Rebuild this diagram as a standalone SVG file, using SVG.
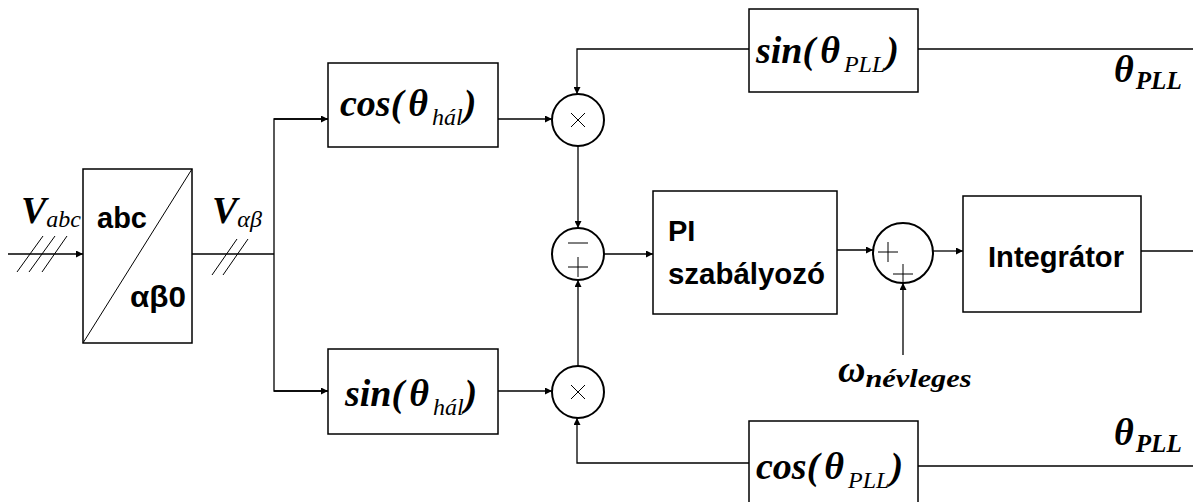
<svg xmlns="http://www.w3.org/2000/svg" width="1193" height="502" viewBox="0 0 1193 502">
<style>
.box{fill:#fff;stroke:#000;stroke-width:1.5}
.circ{fill:#fff;stroke:#000;stroke-width:2}
.ln{fill:none;stroke:#000;stroke-width:1.3}
.thin{fill:none;stroke:#000;stroke-width:1}
.fb{font-family:"Liberation Serif",serif;font-weight:bold;font-style:italic;font-size:38px}
.fs{font-family:"Liberation Serif",serif;font-style:italic;font-size:24px}
.fsb{font-family:"Liberation Serif",serif;font-style:italic;font-weight:bold;font-size:25px}
.sb{font-family:"Liberation Sans",Arial,sans-serif;font-weight:bold;font-size:29px}
</style>
<defs>
<marker id="ar" viewBox="0 0 10 10" refX="10" refY="5" markerWidth="8" markerHeight="7" markerUnits="userSpaceOnUse" orient="auto">
<path d="M0,0 L10,5 L0,10 z" fill="#000"/>
</marker>
</defs>
<rect width="1193" height="502" fill="#fff"/>

<g id="connectors">
<line class="ln" x1="8" y1="254" x2="83" y2="254" marker-end="url(#ar)"/>
<line class="thin" x1="17" y1="272" x2="43" y2="236"/>
<line class="thin" x1="29" y1="272" x2="55" y2="236"/>
<line class="thin" x1="42" y1="272" x2="67" y2="236"/>
<line class="ln" x1="192" y1="254" x2="274" y2="254"/>
<line class="thin" x1="212" y1="275" x2="237" y2="239"/>
<line class="thin" x1="223" y1="275" x2="248" y2="239"/>
<polyline class="ln" points="328,119 274,119 274,391 328,391"/>
<line class="ln" x1="274" y1="119" x2="328" y2="119" marker-end="url(#ar)"/>
<line class="ln" x1="274" y1="391" x2="328" y2="391" marker-end="url(#ar)"/>
<line class="ln" x1="498" y1="119" x2="552" y2="119" marker-end="url(#ar)"/>
<line class="ln" x1="498" y1="391" x2="552" y2="391" marker-end="url(#ar)"/>
<line class="ln" x1="578" y1="146" x2="578" y2="228" marker-end="url(#ar)"/>
<line class="ln" x1="578" y1="366" x2="578" y2="280" marker-end="url(#ar)"/>
<line class="ln" x1="604" y1="254" x2="653" y2="254" marker-end="url(#ar)"/>
<line class="ln" x1="837" y1="250" x2="873" y2="250" marker-end="url(#ar)"/>
<line class="ln" x1="933" y1="251" x2="963" y2="251" marker-end="url(#ar)"/>
<line class="ln" x1="1141" y1="251" x2="1193" y2="251"/>
<line class="ln" x1="903" y1="355" x2="903" y2="283" marker-end="url(#ar)"/>
<polyline class="ln" points="749,49 577,49 577,94" marker-end="url(#ar)"/>
<line class="ln" x1="918" y1="49" x2="1193" y2="49"/>
<polyline class="ln" points="749,463 577,463 577,418" marker-end="url(#ar)"/>
<line class="ln" x1="918" y1="466" x2="1193" y2="466"/>
</g>

<g id="abc-ab0">
<rect class="box" x="83" y="169" width="109" height="174"/>
<line class="thin" x1="83" y1="343" x2="192" y2="169"/>
<text class="sb" x="97" y="228" font-size="31" textLength="50" lengthAdjust="spacingAndGlyphs">abc</text>
<text class="sb" x="130" y="307" font-size="31" textLength="56" lengthAdjust="spacingAndGlyphs">αβ0</text>
</g>

<g id="label-vabc">
<text x="21" y="223"><tspan class="fb" font-size="38">V</tspan><tspan class="fs" font-size="23" dy="4">abc</tspan></text>
</g>
<g id="label-vab">
<text x="212" y="223"><tspan class="fb" font-size="38">V</tspan><tspan class="fs" font-size="23" dy="4">αβ</tspan></text>
</g>

<g id="cos-hal">
<rect class="box" x="328" y="63" width="170" height="84"/>
<text x="340" y="116"><tspan class="fb">cos(</tspan><tspan class="fb" dx="5">θ</tspan><tspan class="fs" dx="4" dy="9">hál</tspan><tspan class="fb" dx="1" dy="-9">)</tspan></text>
</g>

<g id="sin-hal">
<rect class="box" x="328" y="349" width="170" height="85"/>
<text x="345" y="406"><tspan class="fb">sin(</tspan><tspan class="fb" dx="5">θ</tspan><tspan class="fs" dx="4" dy="9">hál</tspan><tspan class="fb" dx="1" dy="-9">)</tspan></text>
</g>

<g id="mul-top">
<circle class="circ" cx="578" cy="120" r="26"/>
<path class="thin" d="M571,113 L585,127 M585,113 L571,127"/>
</g>

<g id="mul-bottom">
<circle class="circ" cx="578" cy="392" r="26"/>
<path class="thin" d="M571,385 L585,399 M585,385 L571,399"/>
</g>

<g id="sum1">
<circle class="circ" cx="578" cy="254" r="26"/>
<path class="thin" d="M568,243 L588,243 M568,267 L588,267 M578,257 L578,277"/>
</g>

<g id="pi">
<rect class="box" x="653" y="191" width="184" height="123"/>
<text class="sb" x="668" y="241">PI</text>
<text class="sb" x="668" y="284" textLength="157" lengthAdjust="spacingAndGlyphs">szabályozó</text>
</g>

<g id="sum2">
<circle class="circ" cx="903" cy="253" r="30"/>
<path class="thin" d="M878,252 L898,252 M888,242 L888,262 M893,274 L913,274 M903,264 L903,284"/>
</g>

<g id="integrator">
<rect class="box" x="963" y="196" width="178" height="116"/>
<text class="sb" x="988" y="267" textLength="136" lengthAdjust="spacingAndGlyphs">Integrátor</text>
</g>

<g id="label-omega">
<text x="838" y="382"><tspan class="fb" font-size="36">ω</tspan><tspan class="fsb" font-size="27" dy="5" textLength="106" lengthAdjust="spacingAndGlyphs">névleges</tspan></text>
</g>

<g id="sin-pll">
<rect class="box" x="749" y="9" width="169" height="83"/>
<text x="756" y="63"><tspan class="fb">sin(</tspan><tspan class="fb" dx="5">θ</tspan><tspan class="fs" dx="4" dy="9">PLL</tspan><tspan class="fb" dx="1" dy="-9">)</tspan></text>
</g>

<g id="cos-pll">
<rect class="box" x="749" y="421" width="169" height="90"/>
<text x="756" y="479"><tspan class="fb">cos(</tspan><tspan class="fb" dx="5">θ</tspan><tspan class="fs" dx="4" dy="9">PLL</tspan><tspan class="fb" dx="1" dy="-9">)</tspan></text>
</g>

<g id="label-theta-top">
<text x="1114" y="82"><tspan class="fb" font-size="36">θ</tspan><tspan class="fsb" dx="2" dy="7" textLength="46" lengthAdjust="spacingAndGlyphs">PLL</tspan></text>
</g>
<g id="label-theta-bottom">
<text x="1114" y="445"><tspan class="fb" font-size="36">θ</tspan><tspan class="fsb" dx="2" dy="7" textLength="46" lengthAdjust="spacingAndGlyphs">PLL</tspan></text>
</g>
</svg>
